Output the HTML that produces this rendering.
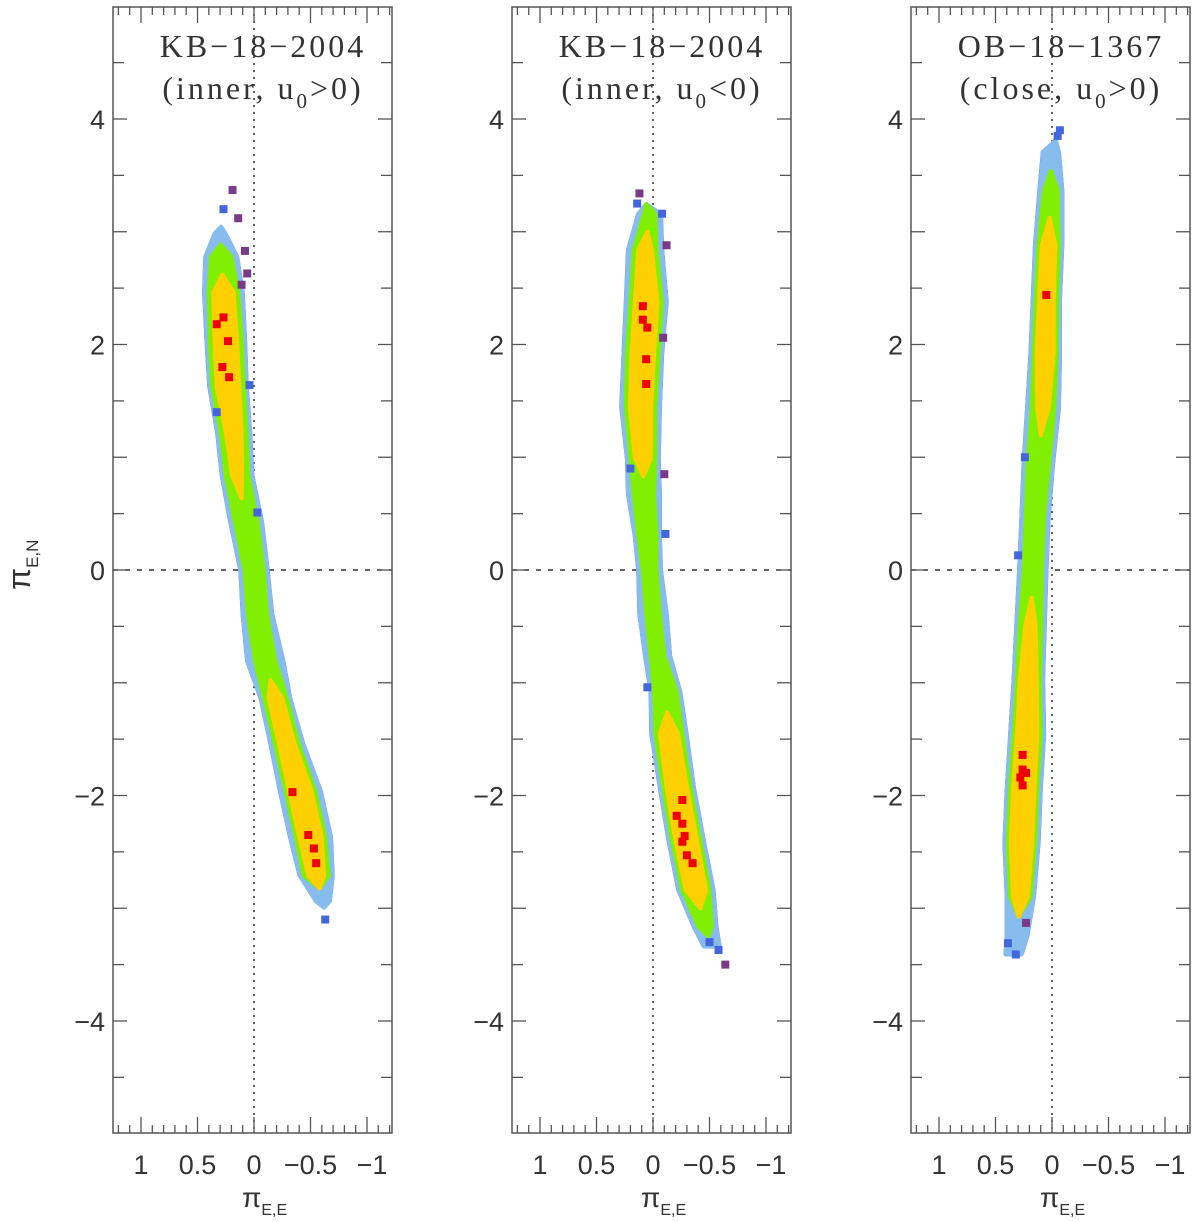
<!DOCTYPE html>
<html><head><meta charset="utf-8"><style>
html,body{margin:0;padding:0;background:#fff;}
svg{display:block;}
text{font-family:"Liberation Sans",sans-serif;fill:#333;}
.ttl{font-family:"Liberation Serif",serif;font-size:32px;fill:#333;letter-spacing:3px;}
</style></head><body>
<svg id="chart" width="1200" height="1222" viewBox="0 0 1200 1222"></svg>
<script>
const p1Y=[3.1,2.99,2.78,2.46,2.04,1.63,1.22,0.84,0.43,0,-0.39,-0.81,-1.14,-1.54,-1.96,-2.37,-2.71,-2.94,-3.05];
const p1C=[0.28,0.30,0.29,0.27,0.25,0.23,0.18,0.15,0.07,0.00,-0.03,-0.10,-0.19,-0.29,-0.41,-0.50,-0.55,-0.61,-0.63];
const p1LB=[0,.045,.14,.17,.17,.165,.145,.135,.14,.12,.13,.16,.13,.145,.18,.18,.145,.06,0];
const p1G=[0,0,.09,.13,.14,.14,.115,.10,.10,.085,.085,.09,.10,.105,.13,.13,.11,0,0];
const p1YL=[0,0,0,.09,.10,.10,.07,.045,0,0,0,0,.06,.07,.10,.10,.07,0,0];
const p1RedX=[0.27,0.33,0.23,0.28,0.22,-0.34,-0.48,-0.53,-0.55];
const p1RedY=[2.24,2.18,2.03,1.80,1.71,-1.97,-2.35,-2.47,-2.60];
const p1PurX=[0.19,0.14,0.08,0.06,0.11];
const p1PurY=[3.37,3.12,2.83,2.63,2.53];
const p1BluX=[0.27,0.04,-0.03,-0.63,0.33];
const p1BluY=[3.2,1.64,0.51,-3.1,1.4];

const p2Y=[3.33,3.16,2.84,2.38,1.92,1.45,0.99,0.67,0.30,0,-0.39,-0.76,-1.08,-1.45,-1.92,-2.38,-2.84,-3.16,-3.34];
const p2C=[0.09,0.03,0.07,0.06,0.09,0.11,0.09,0.08,0.05,0.03,0.00,-0.04,-0.11,-0.14,-0.21,-0.29,-0.38,-0.46,-0.52];
const p2LB=[0,.10,.15,.18,.17,.17,.14,.14,.11,.10,.12,.11,.13,.155,.15,.155,.155,.10,.07];
const p2G=[0,.05,.10,.14,.14,.13,.11,.09,.08,.06,.06,.06,.10,.12,.12,.125,.12,.06,0];
const p2YL=[0,0,.06,.10,.10,.095,.07,0,0,0,0,0,0,.08,.09,.095,.09,0,0];
const p2RedX=[0.09,0.09,0.05,0.06,0.06,-0.26,-0.21,-0.26,-0.28,-0.26,-0.30,-0.35];
const p2RedY=[2.34,2.22,2.15,1.87,1.65,-2.04,-2.18,-2.25,-2.36,-2.41,-2.53,-2.60];
const p2PurX=[-0.64,-0.12,-0.10,0.12,-0.09];
const p2PurY=[-3.50,2.88,0.85,3.34,2.06];
const p2BluX=[-0.08,-0.11,0.20,0.05,-0.58,-0.50,0.14];
const p2BluY=[3.16,0.32,0.90,-1.04,-3.37,-3.30,3.25];

const p3Y=[3.92,3.71,3.37,2.88,2.40,1.92,1.43,0.96,0.47,0,-0.49,-0.98,-1.46,-1.94,-2.42,-2.90,-3.25,-3.41];
const p3C=[-0.08,0.01,0.01,0.03,0.05,0.06,0.08,0.12,0.15,0.17,0.19,0.21,0.22,0.25,0.27,0.28,0.31,0.34];
const p3LB=[0,.07,.10,.12,.12,.13,.14,.13,.12,.12,.125,.13,.15,.15,.15,.12,.09,.07];
const p3G=[0,0,.06,.09,.095,.10,.10,.095,.08,.08,.095,.10,.12,.12,.12,.09,0,0];
const p3YL=[0,0,0,.06,.065,.075,.05,0,0,0,.045,.075,.09,.095,.095,.065,0,0];
const p3RedX=[0.05,0.26,0.26,0.28,0.23,0.26];
const p3RedY=[2.44,-1.64,-1.77,-1.84,-1.80,-1.91];
const p3PurX=[0.23];
const p3PurY=[-3.13];
const p3BluX=[-0.07,0.39,0.32,0.30,0.24,-0.05];
const p3BluY=[3.90,-3.31,-3.41,0.13,1.00,3.85];

const titles1=["KB\u221218\u22122004","KB\u221218\u22122004","OB\u221218\u22121367"];
const titles2=["(inner, u","(inner, u","(close, u"];
const titles3=[">0)","<0)",">0)"];
const xTickLabels=["1","0.5","0","\u22120.5","\u22121"];
const xTickVals=[1,0.5,0,-0.5,-1];
const yTickLabels=["\u22124","\u22122","0","2","4"];
const yTickVals=[-4,-2,0,2,4];

const NS="http://www.w3.org/2000/svg";
const svg=document.getElementById('chart');
function mk(tag,attrs,parent){const e=document.createElementNS(NS,tag);for(const k in attrs)e.setAttribute(k,attrs[k]);(parent||svg).appendChild(e);return e;}

const PX=113, PY=112.75, TOP=7, BOT=1133, W=279, ZERO_OFF=141;
const lefts=[113,512,911];
const panels=[
 {Y:p1Y,C:p1C,LB:p1LB,G:p1G,YL:p1YL,rx:p1RedX,ry:p1RedY,px:p1PurX,py:p1PurY,bx:p1BluX,by:p1BluY},
 {Y:p2Y,C:p2C,LB:p2LB,G:p2G,YL:p2YL,rx:p2RedX,ry:p2RedY,px:p2PurX,py:p2PurY,bx:p2BluX,by:p2BluY},
 {Y:p3Y,C:p3C,LB:p3LB,G:p3G,YL:p3YL,rx:p3RedX,ry:p3RedY,px:p3PurX,py:p3PurY,bx:p3BluX,by:p3BluY}];

panels.forEach((P,i)=>{
  const L=lefts[i], x0=L+ZERO_OFF;
  const xs=v=>x0-v*PX;
  const ys=v=>570-v*PY;
  const g=mk('g',{});
  
  
  const vl=mk('line',{x1:x0,y1:TOP,x2:x0,y2:BOT,stroke:'#333','stroke-width':1.5,'stroke-dasharray':'2,5'},g);
  
  
  const hl=mk('line',{x1:L,y1:570,x2:L+W,y2:570,stroke:'#333','stroke-width':1.5,'stroke-dasharray':'5,7'},g);
  
  
  function band(hw,pad,color,sw,name){
    const n=P.Y.length;
    let k=0;
    while(k<n){
      if(hw[k]<=0){k++;continue;}
      let s=k; while(k<n&&hw[k]>0)k++; let e=k-1;
      const rows=[];
      if(s>0) rows.push([(P.Y[s]+P.Y[s-1])/2,(P.C[s]+P.C[s-1])/2,0]);
      for(let j=s;j<=e;j++) rows.push([P.Y[j],P.C[j],hw[j]+pad]);
      if(e<n-1) rows.push([(P.Y[e]+P.Y[e+1])/2,(P.C[e]+P.C[e+1])/2,0]);
      const left=[],right=[];
      rows.forEach(r=>{
        left.push(xs(r[1]+r[2]).toFixed(1)+','+ys(r[0]).toFixed(1));
        right.unshift(xs(r[1]-r[2]).toFixed(1)+','+ys(r[0]).toFixed(1));
      });
      const pg=mk('polygon',{points:left.concat(right).join(' '),fill:color,stroke:color,'stroke-width':sw,'stroke-linejoin':'round'},g);
      
      
    }
  }
  band(P.LB,0.01,'#4a6ee0',2,'band-3sigma-'+(i+1));
  band(P.LB,0,'#86bdee',4,'band-2sigma-'+(i+1));
  band(P.G,0,'#80f000',4,'band-1sigma-'+(i+1));
  band(P.YL,0,'#ffd000',4,'band-core-'+(i+1));
  function pts(X,Yv,color,name){
    X.forEach((v,k)=>{
      const r=mk('rect',{x:xs(v)-4,y:ys(Yv[k])-4,width:8,height:8,fill:color},g);
      
      
    });
  }
  pts(P.bx,P.by,'#4466dd','outlier-blue');
  pts(P.px,P.py,'#7a3a8a','outlier-purple');
  pts(P.rx,P.ry,'#ee0000','best-fit-point');
  const fr=mk('rect',{x:L,y:TOP,width:W,height:BOT-TOP,fill:'none',stroke:'#555','stroke-width':1.5},g);
  
  
  for(let t=-12;t<=12;t++){
    const v=t/10, x=xs(v);
    if(x<L+1||x>L+W-1) continue;
    const len=(t%5===0)?16:8;
    mk('line',{x1:x,y1:BOT,x2:x,y2:BOT-len,stroke:'#555','stroke-width':1.3},g);
    mk('line',{x1:x,y1:TOP,x2:x,y2:TOP+len,stroke:'#555','stroke-width':1.3},g);
  }
  for(let t=-9;t<=9;t++){
    const y=ys(t/2), len=(t%2===0)?14:11;
    mk('line',{x1:L,y1:y,x2:L+len,y2:y,stroke:'#555','stroke-width':1.3},g);
    mk('line',{x1:L+W,y1:y,x2:L+W-len,y2:y,stroke:'#555','stroke-width':1.3},g);
  }
  xTickLabels.forEach((s,k)=>{
    let x=xs(xTickVals[k]);
    if(xTickVals[k]===-1) x+=5;
    const t=mk('text',{x:x,y:1174,'text-anchor':'middle','font-size':27},g);
    t.textContent=s;
    
    
  });
  yTickLabels.forEach((s,k)=>{
    const t=mk('text',{x:L-8,y:ys(yTickVals[k])+10,'text-anchor':'end','font-size':27},g);
    t.textContent=s;
    
    
  });
  const xt=mk('text',{x:x0-12,y:1207,'font-size':28,'font-family':'Liberation Serif'},g);
  xt.textContent='\u03C0';
  
  
  const xs2=mk('tspan',{'font-size':16,dy:8},xt); xs2.textContent='E,E';
  const cx=L+150;
  const t1=mk('text',{x:cx,y:57,'text-anchor':'middle',class:'ttl'},g);
  t1.textContent=titles1[i];
  
  
  const t2=mk('text',{x:cx,y:99,'text-anchor':'middle',class:'ttl'},g);
  
  
  const a=mk('tspan',{},t2); a.textContent=titles2[i];
  const b=mk('tspan',{'font-size':21,dy:9},t2); b.textContent='0';
  const c=mk('tspan',{dy:-9},t2); c.textContent=titles3[i];
});
const yt=mk('text',{transform:'translate(30,590) rotate(-90)','font-size':32,'font-family':'Liberation Serif'});


yt.textContent='\u03C0';
const ys2=mk('tspan',{'font-size':17,dy:8},yt); ys2.textContent='E,N';
</script>
</body></html>
